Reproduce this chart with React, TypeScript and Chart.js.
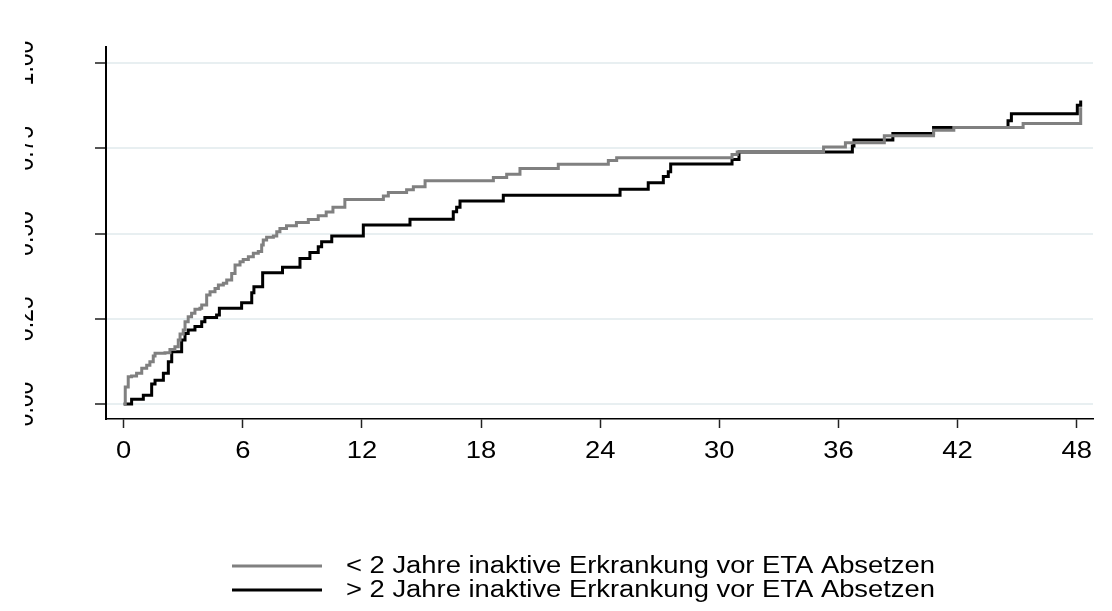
import React, { useEffect, useRef } from 'react';
import { Chart, registerables } from 'chart.js';

Chart.register(...registerables);

const xTickValues = [0, 6, 12, 18, 24, 30, 36, 42, 48];
const xTickLabels = ['0', '6', '12', '18', '24', '30', '36', '42', '48'];
const yTickValues = [0, 0.25, 0.5, 0.75, 1];
const yTickLabels = ['0.00', '0.25', '0.50', '0.75', '1.00'];

const seriesLabels = [
  '< 2 Jahre inaktive Erkrankung vor ETA Absetzen',
  '> 2 Jahre inaktive Erkrankung vor ETA Absetzen',
];
const seriesColors = ['#808080', '#000000'];

const grayTimes = [
  0, 0.08, 0.23, 0.4, 0.65, 0.91, 1.16, 1.32, 1.49, 1.58, 2.08, 2.33, 2.58, 2.75, 2.84, 3.0,
  3.09, 3.25, 3.42, 3.59, 3.84, 3.93, 4.18, 4.35, 4.6, 4.77, 5.02, 5.19, 5.44, 5.61, 5.86,
  6.02, 6.28, 6.53, 6.78, 6.95, 7.03, 7.2, 7.54, 7.71, 7.87, 8.2, 8.7, 9.3, 9.8, 10.2, 10.54,
  11.14, 13.08, 13.33, 14.25, 14.59, 15.18, 18.62, 19.29, 19.96, 21.89, 24.41, 24.83, 30.64,
  30.9, 35.25, 36.35, 38.31, 40.79, 41.81, 45.3, 48.2,
];
const grayValues = [
  0, 0.05, 0.08, 0.082, 0.09, 0.105, 0.114, 0.124, 0.141, 0.149, 0.15, 0.16, 0.168, 0.188,
  0.205, 0.217, 0.241, 0.256, 0.266, 0.278, 0.281, 0.29, 0.32, 0.329, 0.339, 0.349, 0.354,
  0.364, 0.383, 0.408, 0.417, 0.424, 0.432, 0.442, 0.447, 0.466, 0.481, 0.489, 0.493, 0.505,
  0.515, 0.523, 0.532, 0.541, 0.552, 0.563, 0.577, 0.6, 0.61, 0.62, 0.628, 0.637, 0.655,
  0.664, 0.674, 0.691, 0.703, 0.714, 0.722, 0.732, 0.739, 0.754, 0.766, 0.787, 0.803, 0.811,
  0.823, 0.87,
];

const blackTimes = [
  0, 0.4, 0.99, 1.41, 1.58, 2.0, 2.25, 2.42, 2.92, 3.09, 3.25, 3.59, 3.93, 4.09, 4.68, 4.82,
  5.94, 6.45, 6.56, 7.0, 8.0, 8.88, 9.38, 9.8, 9.97, 10.48, 12.07, 14.42, 16.6, 16.77, 16.94,
  19.12, 25.0, 26.42, 27.18, 27.43, 27.55, 30.64, 30.99, 36.7, 36.78, 38.74, 40.79, 44.54,
  44.71, 48.03, 48.2,
];
const blackValues = [
  0, 0.014, 0.026, 0.059, 0.07, 0.09, 0.124, 0.153, 0.188, 0.207, 0.217, 0.227, 0.241, 0.254,
  0.261, 0.281, 0.297, 0.326, 0.344, 0.385, 0.401, 0.427, 0.444, 0.461, 0.476, 0.493, 0.525,
  0.542, 0.564, 0.577, 0.595, 0.612, 0.63, 0.649, 0.667, 0.681, 0.704, 0.717, 0.739, 0.757,
  0.774, 0.793, 0.811, 0.831, 0.851, 0.876, 0.89,
];

const FONT = '23px "Liberation Sans", Arial, sans-serif';
const SX = 1.19;

const textPlugin = {
  id: 'stataText',
  afterDraw(chart: any) {
    const ctx = chart.ctx as CanvasRenderingContext2D;
    const xs = chart.scales.x;
    const ys = chart.scales.y;
    const area = chart.chartArea;
    ctx.save();
    ctx.font = FONT;
    ctx.fillStyle = '#000';
    ctx.textAlign = 'center';
    ctx.textBaseline = 'alphabetic';
    xTickValues.forEach((v, i) => {
      const px = xs.getPixelForValue(v);
      ctx.save();
      ctx.translate(px, area.bottom + 38.5);
      ctx.scale(SX, 1);
      ctx.fillText(xTickLabels[i], 0, 0);
      ctx.restore();
    });

    ctx.save();
    ctx.beginPath();
    ctx.rect(25, 0, chart.width, chart.height);
    ctx.clip();
    yTickValues.forEach((v, i) => {
      const py = ys.getPixelForValue(v);
      ctx.save();
      ctx.translate(33, py);
      ctx.scale(SX, 1);
      ctx.rotate(-Math.PI / 2);
      ctx.fillText(yTickLabels[i], 0, 0);
      ctx.restore();
    });
    ctx.restore();

    chart.data.datasets.forEach((ds: any, i: number) => {
      const ly = 566 + i * 24;
      ctx.strokeStyle = ds.borderColor;
      ctx.lineWidth = 3;
      ctx.beginPath();
      ctx.moveTo(232, ly);
      ctx.lineTo(322, ly);
      ctx.stroke();
      ctx.save();
      ctx.translate(346, ly + 1);
      ctx.scale(SX, 1);
      ctx.textAlign = 'left';
      ctx.textBaseline = 'middle';
      ctx.fillText(ds.label, 0, 0);
      ctx.restore();
    });
    ctx.restore();
  },
};

export default function App() {
  const ref = useRef<HTMLCanvasElement | null>(null);

  useEffect(() => {
    if (!ref.current) return;
    const chart = new Chart(ref.current, {
      type: 'line',
      data: {
        datasets: [
          {
            label: seriesLabels[0],
            data: grayTimes.map((t, i) => ({ x: t, y: grayValues[i] })),
            borderColor: seriesColors[0],
            backgroundColor: seriesColors[0],
            borderWidth: 3,
            stepped: 'before',
            pointRadius: 0,
            fill: false,
          },
          {
            label: seriesLabels[1],
            data: blackTimes.map((t, i) => ({ x: t, y: blackValues[i] })),
            borderColor: seriesColors[1],
            backgroundColor: seriesColors[1],
            borderWidth: 3,
            stepped: 'before',
            pointRadius: 0,
            fill: false,
          },
        ],
      },
      options: {
        animation: false,
        responsive: false,
        layout: { padding: { left: 0, right: 19, top: 47, bottom: 152 } },
        plugins: { legend: { display: false }, tooltip: { enabled: false } },
        scales: {
          x: {
            type: 'linear',
            bounds: 'data',
            min: -0.89,
            max: 48.82,
            afterBuildTicks: (s: any) => {
              s.ticks = xTickValues.map((v) => ({ value: v }));
            },
            afterFit: (s: any) => {
              s.height = 40;
            },
            ticks: { display: false },
            grid: {
              drawOnChartArea: false,
              drawTicks: true,
              tickLength: 9,
              tickColor: '#222',
              tickWidth: 1.5,
            },
            border: { display: true, color: '#000', width: 1.5 },
          },
          y: {
            type: 'linear',
            bounds: 'data',
            min: -0.044,
            max: 1.047,
            afterBuildTicks: (s: any) => {
              s.ticks = yTickValues.map((v) => ({ value: v }));
            },
            afterFit: (s: any) => {
              s.width = 106;
            },
            ticks: { display: false },
            grid: {
              color: '#e8eff1',
              lineWidth: 2,
              drawTicks: true,
              tickLength: 11,
              tickColor: '#555',
              tickWidth: 2,
            },
            border: { display: true, color: '#000', width: 2 },
          },
        },
      } as any,
      plugins: [textPlugin],
    });
    return () => chart.destroy();
  }, []);

  return (
    <div style={{ position: 'fixed', left: 0, top: 0, width: 1112, height: 611, background: '#fff' }}>
      <canvas ref={ref} width={1112} height={611} style={{ display: 'block', width: 1112, height: 611 }} />
    </div>
  );
}
